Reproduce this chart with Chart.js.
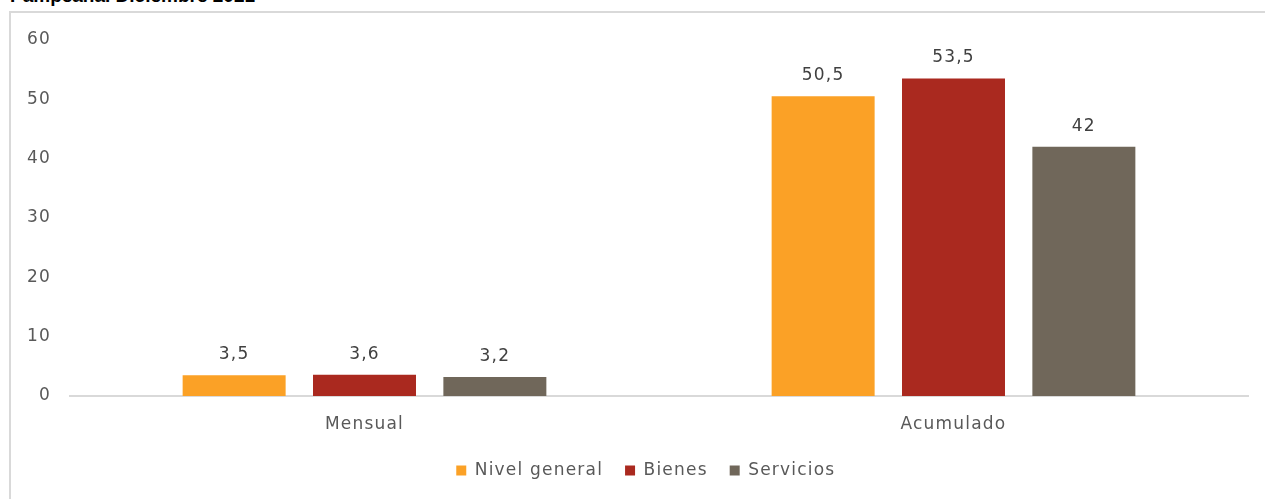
<!DOCTYPE html>
<html>
<head>
<meta charset="utf-8">
<script src="https://cdn.jsdelivr.net/npm/chart.js@4.4.1/dist/chart.umd.min.js"></script>
<style>
  html, body { margin: 0; padding: 0; background: #fff; overflow: hidden; }
  body { width: 1265px; height: 499px; position: relative; }
  #title { position: absolute; left: 10px; top: -15px; font: bold 19px "Liberation Sans", Arial, sans-serif; color: #000; white-space: nowrap; }
  #frame { position: absolute; left: 9px; top: 11px; width: 1260px; height: 500px; border: 2px solid #d9d9d9; border-right: none; border-bottom: none; box-sizing: border-box; }
  #wrap { position: absolute; left: 0; top: 0; width: 1265px; height: 499px; }
</style>
</head>
<body>
<div id="title">Pampeana. Diciembre 2021</div>
<div id="frame"></div>
<div id="wrap"><canvas id="chart"></canvas></div>
<script>
// datos
const categorias = ['Mensual', 'Acumulado'];
const nivelGeneral = [3.5, 50.5];
const bienes = [3.6, 53.5];
const servicios = [3.2, 42];
const ticksY = [0, 10, 20, 30, 40, 50, 60];

const fuente = '"DejaVu Sans", sans-serif';

// espaciado de letras para imitar la fuente ancha del original
const espaciado = {
    id: 'espaciado',
    beforeInit(chart) { chart.ctx.letterSpacing = '1.2px'; },
    beforeDraw(chart) { chart.ctx.letterSpacing = '1.2px'; }
};

// etiquetas sobre las barras (formato con coma)
const etiquetas = {
    id: 'etiquetas',
    afterDatasetsDraw(chart) {
        const ctx = chart.ctx;
        ctx.save();
        ctx.font = '17px ' + fuente;
        ctx.fillStyle = '#404040';
        ctx.textAlign = 'center';
        ctx.textBaseline = 'bottom';
        chart.data.datasets.forEach((ds, i) => {
            chart.getDatasetMeta(i).data.forEach((bar, j) => {
                const txt = String(ds.data[j]).replace('.', ',');
                ctx.fillText(txt, bar.x, bar.y - 12);
            });
        });
        ctx.restore();
    }
};

new Chart(document.getElementById('chart'), {
    type: 'bar',
    data: {
        labels: categorias,
        datasets: [
            { label: 'Nivel general', data: nivelGeneral, backgroundColor: '#FBA126' },
            { label: 'Bienes', data: bienes, backgroundColor: '#AA291F' },
            { label: 'Servicios', data: servicios, backgroundColor: '#70675A' }
        ]
    },
    options: {
        responsive: true,
        maintainAspectRatio: false,
        animation: false,
        datasets: { bar: { categoryPercentage: 0.664, barPercentage: 0.79 } },
        layout: { padding: { left: 10, right: 17, top: 40, bottom: 10 } },
        plugins: {
            legend: {
                position: 'bottom',
                labels: {
                    boxWidth: 10, boxHeight: 10, padding: 22,
                    color: '#595959',
                    font: { family: fuente, size: 17 }
                }
            },
            tooltip: { enabled: false }
        },
        scales: {
            x: {
                grid: { display: false },
                border: { color: '#d9d9d9', width: 2 },
                ticks: { color: '#595959', font: { family: fuente, size: 17 }, padding: 10 },
                afterFit(s) { s.height = 44; }
            },
            y: {
                min: 0, max: 60,
                afterBuildTicks(s) { s.ticks = ticksY.map(v => ({ value: v })); },
                grid: { display: false, drawTicks: false },
                border: { display: false },
                ticks: { color: '#595959', font: { family: fuente, size: 17 }, padding: 19 },
                afterFit(s) { s.width = 60; }
            }
        }
    },
    plugins: [espaciado, etiquetas]
});
</script>
</body>
</html>
